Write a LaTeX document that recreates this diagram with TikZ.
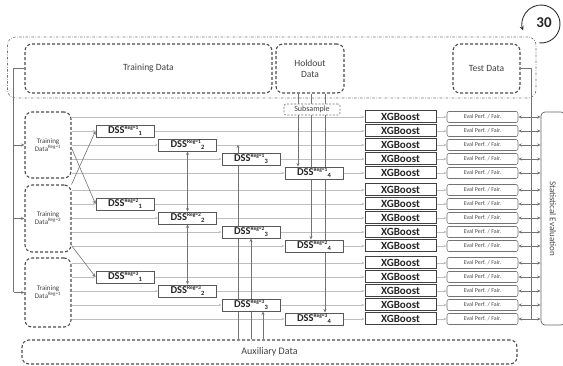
\documentclass[tikz,border=0pt]{standalone}
\usepackage{fontspec}
\setmainfont{Carlito}
\usetikzlibrary{arrows.meta,calc}
\pgfdeclarelayer{bg}
\pgfsetlayers{bg,main}
\newcommand\dsslab[2]{DSS\textsuperscript{\fontsize{5.5}{6}\selectfont Reg=#1}\kern-0.3pt\raisebox{-2.2pt}{\fontsize{6.5}{6}\selectfont #2}}
\begin{document}
\begin{tikzpicture}[x=1pt,y=-1pt,
  outerbox/.style={draw=black!55, line width=0.6pt, dash pattern=on 2.5pt off 1.5pt on 0.6pt off 1.5pt, rounded corners=8pt, inner sep=0pt},
  dashbox/.style={draw=black!70, line width=1.1pt, dash pattern=on 3pt off 2pt, rounded corners=7pt, inner sep=0pt, align=center, text=black!75},
  subbox/.style={draw=black!55, line width=0.6pt, dash pattern=on 2pt off 1.5pt, rounded corners=2pt, fill=white, inner sep=0pt, minimum width=56pt, minimum height=11pt, font=\fontsize{8}{9}\selectfont, text=black!75},
  dss/.style={draw=black!65, fill=white, line width=0.9pt, minimum width=58pt, minimum height=12pt, inner sep=0pt, font=\bfseries\fontsize{10.5}{10}\selectfont, text=black!85},
  xgb/.style={draw=black!75, fill=white, line width=1pt, minimum width=71pt, minimum height=12pt, inner sep=0pt, font=\bfseries\fontsize{11}{11}\selectfont, text=black!85},
  evalbox/.style={draw=black!55, fill=white, line width=0.6pt, rounded corners=2pt, minimum width=71pt, minimum height=11pt, inner sep=0pt, font=\fontsize{6}{6}\selectfont, text=black!70},
  statbox/.style={draw=black!60, fill=white, line width=0.7pt, rounded corners=4pt, inner sep=0pt, font=\fontsize{9}{9}\selectfont, text=black!70},
  rowline/.style={draw=black!25, line width=0.6pt, -{Stealth[length=3pt,width=2.6pt]}},
  darkline/.style={draw=black!55, line width=0.6pt},
  darkarrow/.style={darkline, -{Stealth[length=3.5pt,width=3pt]}},
  darkbi/.style={darkline, {Stealth[length=3.5pt,width=3pt]}-{Stealth[length=3.5pt,width=3pt]}},
]
\useasboundingbox (0,0) rectangle (563,366);

% top data boxes
\node[outerbox, minimum width=528.5pt, minimum height=61pt] (outer) at (271.75,67.5) {};
\node[dashbox, minimum width=247pt, minimum height=49pt, font=\fontsize{9.5}{11}\selectfont] (tdata) at (148.5,68.5) {Training Data};
\node[dashbox, minimum width=68pt, minimum height=49pt, font=\fontsize{9.5}{11}\selectfont] (holdout) at (310,68.5) {Holdout\\Data};
\node[dashbox, minimum width=67pt, minimum height=49pt, font=\fontsize{9.5}{11}\selectfont] (test) at (486.5,68.5) {Test Data};
\node[subbox] (sub) at (312,109.5) {Subsample};

% 30 with arrow
\node[font=\bfseries\fontsize{15}{15}\selectfont, text=black!85] (num) at (544,23) {30};
\draw[black!80, line width=0.9pt, -{Stealth[length=4.5pt,width=4pt]}] (541,24) ++(95:19) arc[start angle=95, end angle=-200, radius=19];

% training data per region
\node[dashbox, minimum width=46pt, minimum height=66pt, font=\fontsize{7}{8}\selectfont] (td1) at (48,145) {Training\\Data\textsuperscript{Reg=1}};
\node[dashbox, minimum width=46pt, minimum height=67pt, font=\fontsize{7}{8}\selectfont] (td2) at (48,218.5) {Training\\Data\textsuperscript{Reg=2}};
\node[dashbox, minimum width=46pt, minimum height=69pt, font=\fontsize{7}{8}\selectfont] (td3) at (48,292.5) {Training\\Data\textsuperscript{Reg=1}};

% auxiliary data
\node[dashbox, minimum width=495pt, minimum height=24pt, font=\fontsize{10}{11}\selectfont] (aux) at (269.5,352) {Auxiliary Data};

% statistical evaluation
\node[statbox, minimum width=24pt, minimum height=213pt] (stats) at (553,218.5) {\rotatebox{-90}{Statistical Evaluation}};

% XGBoost and eval rows
\foreach \r in {1,2,3} {
  \foreach \i in {0,...,4} {
    \pgfmathsetmacro\yy{117+73*(\r-1)+14*\i}
    \node[xgb] (xgb-\r-\i) at (400.5,\yy) {XGBoost};
    \node[evalbox] (ev-\r-\i) at (482.5,\yy) {Eval Perf. / Fair.};
  }
}
% DSS boxes
\foreach \r in {1,2,3} {
  \foreach \i/\cx in {1/125,2/187.5,3/251,4/314} {
    \pgfmathsetmacro\yy{117+73*(\r-1)+14*\i}
    \node[dss] (dss-\r-\i) at (\cx,\yy) {\dsslab{\r}{\i}};
  }
}

\coordinate (L1) at (13.7,145);
\coordinate (L2) at (13.7,218.5);
\coordinate (L3) at (13.7,292.5);
\coordinate (testdown) at (531,319);

\begin{pgfonlayer}{bg}
  \foreach \r in {1,2,3} {
    \draw[rowline] (td\r.east |- xgb-\r-0.west) -- (xgb-\r-0.west);
    \foreach \i in {1,...,4} {
      \draw[rowline] (td\r.east |- dss-\r-\i.west) -- (dss-\r-\i.west);
      \draw[rowline] (dss-\r-\i.east) -- (xgb-\r-\i.west);
    }
    \foreach \i in {0,...,4} {
      \draw[rowline] (xgb-\r-\i.east) -- (ev-\r-\i.west);
      \draw[darkbi] (ev-\r-\i.east) -- (ev-\r-\i.east -| stats.west);
    }
  }
  % test data line
  \draw[darkline] (test.east) -| (testdown);
  % left distribution line
  \draw[darkline] (tdata.west) -| (L3);
  \draw[darkarrow] (L1) -- (td1.west);
  \draw[darkarrow] (L2) -- (td2.west);
  \draw[darkarrow] (L3) -- (td3.west);
  % holdout -> subsample -> DSS_4
  \draw[darkarrow] ($(holdout.south)+(-12,0)$) -- ($(holdout.south |- dss-1-4.north)+(-12,0)$);
  \draw[darkarrow] ($(holdout.south)+(1,0)$) -- ($(holdout.south |- dss-2-4.north)+(1,0)$);
  \draw[darkarrow] ($(holdout.south)+(15,0)$) -- ($(holdout.south |- dss-3-4.north)+(15,0)$);
  % auxiliary -> DSS_3
  \draw[darkarrow] ($(aux.north -| dss-3-3.south)+(-13,0)$) -- ($(dss-1-3.north)+(-13,-8)$);
  \draw[darkarrow] (aux.north -| dss-3-3.south) -- (dss-2-3.south);
  \draw[darkarrow] ($(aux.north -| dss-3-3.south)+(12,0)$) -- ($(dss-3-3.south)+(12,0)$);
  % DSS_2 exchanges
  \draw[darkbi] (dss-1-2.south) -- (dss-2-2.north);
  \draw[darkbi] (dss-2-2.south) -- (dss-3-2.north);
  % cross region training data to DSS_1
  \draw[darkarrow] ($(td1.east)+(0,3)$) -- (dss-2-1.west);
  \draw[darkarrow] (td2.north east) -- (dss-1-1.west);
  \draw[darkarrow] ($(td2.south east)+(0,-7)$) -- (dss-3-1.west);
\end{pgfonlayer}
\end{tikzpicture}
\end{document}
